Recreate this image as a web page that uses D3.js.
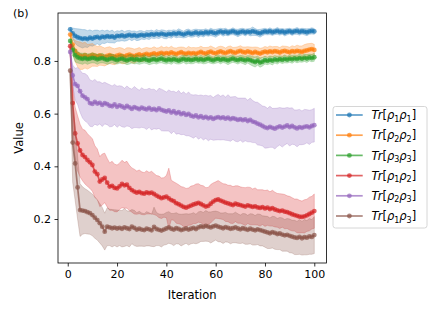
<!DOCTYPE html>
<html>
<head>
<meta charset="utf-8">
<script src="https://cdn.jsdelivr.net/npm/d3@7"></script>
<style>
  body { margin: 0; background: #fff; }
  svg { font-family: "DejaVu Sans", sans-serif; }
</style>
</head>
<body>
<svg width="440" height="315"></svg>
<script>
var width = 440;
var height = 315;

// iteration index
var iterations = d3.range(1, 101);

var seriesNames = ["p11", "p22", "p33", "p12", "p23", "p13"];
var subscripts = [["1","1"], ["2","2"], ["3","3"], ["1","2"], ["2","3"], ["1","3"]];
var colors = ["#1f77b4", "#ff7f0e", "#2ca02c", "#d62728", "#9467bd", "#8c564b"];

var meanP11 = [
  .920,.905,.895,.890,.887,.884,.886,.883,.888,.885,
  .889,.891,.887,.892,.890,.894,.891,.893,.889,.895,
  .894,.897,.893,.896,.899,.895,.898,.894,.897,.899,
  .896,.900,.898,.902,.899,.903,.900,.904,.901,.899,
  .903,.901,.905,.902,.906,.903,.900,.904,.907,.903,
  .905,.908,.904,.907,.905,.909,.906,.910,.907,.905,
  .909,.912,.908,.911,.907,.910,.913,.909,.906,.910,
  .912,.908,.911,.909,.913,.910,.907,.905,.909,.912,
  .910,.913,.909,.911,.914,.910,.912,.908,.911,.913,
  .909,.912,.914,.910,.913,.911,.909,.912,.914,.912];
var stdP11 = [
  .008,.02,.028,.032,.034,.035,.033,.032,.03,.029,
  .028,.026,.027,.025,.024,.023,.022,.024,.021,.02,
  .019,.02,.018,.019,.017,.018,.016,.017,.018,.016,
  .015,.016,.017,.015,.014,.016,.015,.014,.016,.015,
  .014,.015,.013,.014,.016,.014,.013,.015,.014,.013,
  .014,.013,.015,.012,.014,.013,.012,.014,.013,.015,
  .013,.012,.014,.013,.012,.011,.013,.012,.014,.013,
  .012,.013,.011,.014,.016,.013,.012,.015,.013,.012,
  .011,.013,.012,.011,.013,.012,.011,.013,.012,.011,
  .012,.011,.013,.012,.011,.012,.013,.011,.012,.011];

var meanP22 = [
  .900,.862,.838,.826,.820,.818,.822,.816,.819,.823,
  .820,.817,.821,.818,.815,.819,.822,.818,.816,.820,
  .823,.819,.817,.821,.824,.820,.818,.822,.825,.821,
  .824,.827,.823,.826,.829,.825,.828,.831,.827,.830,
  .828,.832,.829,.826,.830,.833,.829,.827,.831,.828,
  .830,.827,.831,.834,.830,.828,.832,.835,.831,.829,
  .833,.836,.832,.830,.834,.837,.833,.831,.835,.838,
  .834,.832,.836,.833,.830,.834,.831,.828,.832,.835,
  .833,.836,.834,.837,.835,.832,.836,.838,.835,.833,
  .837,.835,.838,.836,.834,.838,.840,.843,.845,.842];
var stdP22 = [
  .008,.025,.04,.048,.052,.05,.049,.047,.045,.043,
  .04,.038,.037,.035,.034,.033,.032,.031,.03,.029,
  .028,.03,.027,.029,.026,.028,.027,.025,.026,.024,
  .025,.024,.026,.023,.025,.024,.022,.025,.023,.024,
  .022,.024,.021,.023,.022,.02,.023,.021,.024,.022,
  .021,.023,.02,.022,.021,.023,.02,.022,.021,.019,
  .021,.02,.022,.019,.021,.02,.018,.021,.019,.02,
  .019,.021,.018,.02,.022,.019,.021,.02,.018,.02,
  .019,.021,.02,.018,.02,.019,.021,.018,.02,.019,
  .021,.02,.022,.021,.023,.024,.025,.023,.022,.021];

var meanP33 = [
  .876,.842,.822,.814,.810,.808,.811,.807,.809,.812,
  .810,.806,.809,.811,.807,.804,.808,.810,.806,.803,
  .807,.809,.805,.802,.806,.808,.804,.807,.803,.805,
  .808,.804,.801,.805,.807,.803,.806,.809,.805,.802,
  .806,.803,.807,.804,.801,.805,.808,.804,.806,.803,
  .805,.808,.804,.807,.803,.806,.809,.805,.802,.806,
  .808,.804,.807,.805,.802,.806,.809,.805,.803,.807,
  .805,.802,.806,.803,.799,.796,.801,.794,.797,.803,
  .800,.804,.801,.806,.803,.807,.804,.808,.805,.809,
  .806,.810,.807,.811,.808,.812,.809,.813,.811,.814];
var stdP33 = [
  .008,.02,.025,.022,.02,.021,.019,.02,.018,.019,
  .018,.019,.017,.018,.016,.017,.018,.016,.017,.015,
  .016,.017,.015,.016,.018,.016,.015,.017,.016,.015,
  .016,.014,.015,.017,.016,.015,.014,.016,.015,.014,
  .015,.016,.014,.015,.013,.015,.014,.016,.015,.014,
  .015,.014,.013,.015,.014,.016,.015,.014,.013,.015,
  .014,.015,.013,.014,.016,.015,.014,.013,.015,.014,
  .015,.016,.014,.017,.018,.019,.017,.018,.016,.015,
  .014,.015,.016,.014,.015,.013,.014,.015,.013,.014,
  .015,.013,.014,.015,.013,.014,.015,.013,.014,.015];

var meanP12 = [
  .856,.640,.525,.487,.460,.443,.435,.424,.415,.405,
  .380,.370,.342,.350,.356,.338,.323,.326,.318,.316,
  .324,.333,.328,.330,.318,.310,.304,.300,.303,.298,
  .296,.301,.298,.300,.295,.289,.284,.279,.282,.285,
  .278,.272,.268,.260,.256,.251,.246,.243,.247,.251,
  .255,.258,.261,.257,.252,.247,.250,.258,.266,.272,
  .274,.270,.266,.262,.259,.256,.253,.258,.255,.253,
  .250,.247,.252,.249,.246,.248,.244,.242,.245,.240,
  .243,.238,.241,.236,.233,.230,.232,.228,.226,.222,
  .218,.215,.212,.209,.208,.210,.214,.219,.224,.230];
var stdP12 = [
  .01,.08,.1,.105,.1,.098,.102,.1,.099,.1,
  .098,.096,.095,.097,.094,.092,.09,.093,.09,.089,
  .088,.09,.087,.089,.086,.084,.085,.082,.083,.081,
  .08,.082,.079,.081,.078,.076,.079,.077,.075,.08,
  .115,.075,.073,.076,.074,.072,.075,.073,.071,.074,
  .072,.075,.073,.071,.074,.072,.07,.073,.071,.069,
  .072,.07,.068,.071,.069,.072,.07,.068,.071,.069,
  .07,.072,.069,.071,.068,.07,.067,.069,.066,.068,
  .067,.065,.068,.066,.064,.066,.063,.065,.062,.064,
  .063,.061,.064,.062,.06,.063,.061,.064,.062,.065];

var meanP23 = [
  .834,.745,.712,.705,.685,.668,.662,.655,.640,.637,
  .645,.638,.641,.633,.640,.636,.630,.628,.635,.626,
  .631,.627,.622,.629,.624,.618,.625,.621,.617,.623,
  .619,.616,.622,.615,.618,.613,.620,.614,.611,.608,
  .612,.604,.609,.601,.606,.598,.602,.595,.599,.592,
  .589,.593,.586,.590,.584,.588,.582,.586,.580,.584,
  .587,.583,.586,.581,.585,.579,.583,.580,.576,.579,
  .575,.578,.572,.576,.570,.567,.562,.558,.553,.548,
  .545,.550,.546,.543,.548,.552,.547,.551,.555,.549,
  .553,.548,.544,.549,.546,.550,.552,.548,.553,.556];
var stdP23 = [
  .01,.04,.06,.07,.08,.085,.09,.09,.088,.087,
  .085,.083,.08,.082,.079,.078,.08,.077,.076,.078,
  .075,.077,.074,.076,.073,.075,.078,.074,.072,.075,
  .073,.076,.074,.077,.075,.072,.076,.079,.077,.074,
  .078,.08,.076,.079,.082,.078,.081,.079,.083,.08,
  .082,.079,.083,.081,.084,.082,.085,.083,.081,.084,
  .086,.083,.085,.082,.087,.084,.081,.085,.083,.08,
  .084,.081,.079,.083,.08,.077,.081,.078,.076,.079,
  .075,.078,.074,.077,.073,.071,.074,.07,.068,.072,
  .069,.066,.07,.067,.064,.066,.063,.065,.062,.064];

var meanP13 = [
  .763,.490,.411,.320,.234,.232,.230,.226,.222,.215,
  .205,.196,.184,.171,.152,.171,.168,.165,.167,.164,
  .166,.163,.168,.165,.162,.171,.166,.160,.163,.160,
  .158,.163,.161,.157,.170,.162,.159,.156,.160,.164,
  .168,.163,.160,.165,.162,.158,.161,.164,.160,.163,
  .166,.162,.168,.172,.170,.174,.171,.168,.172,.175,
  .171,.168,.165,.169,.166,.163,.165,.168,.164,.161,
  .165,.162,.159,.163,.160,.157,.161,.158,.155,.152,
  .149,.146,.150,.147,.143,.145,.141,.138,.140,.136,
  .133,.130,.128,.132,.127,.131,.129,.134,.132,.139];
var stdP13 = [
  .01,.15,.14,.12,.1,.09,.085,.083,.08,.079,
  .078,.076,.075,.073,.07,.072,.069,.071,.068,.07,
  .067,.069,.072,.066,.068,.065,.067,.064,.066,.063,
  .062,.065,.063,.061,.075,.063,.06,.062,.059,.061,
  .06,.058,.061,.059,.057,.06,.058,.056,.059,.057,
  .058,.056,.059,.057,.055,.058,.056,.059,.057,.055,
  .057,.055,.058,.056,.054,.057,.055,.058,.056,.054,
  .056,.058,.055,.057,.059,.056,.058,.06,.057,.059,
  .061,.058,.06,.062,.059,.061,.063,.06,.062,.064,
  .062,.065,.063,.066,.064,.067,.065,.068,.066,.07];

var means = [meanP11, meanP22, meanP33, meanP12, meanP23, meanP13];
var stds = [stdP11, stdP22, stdP33, stdP12, stdP23, stdP13];

var xTicks = [0, 20, 40, 60, 80, 100];
var yTicks = [0.2, 0.4, 0.6, 0.8];

var margin = {left: 58, right: 113.5, top: 13, bottom: 52};

var x = d3.scaleLinear()
    .domain([-3.95, 104.95])
    .range([margin.left, width - margin.right]);

var y = d3.scaleLinear()
    .domain([0.033, 0.982])
    .range([height - margin.bottom, margin.top]);

var svg = d3.select("svg");

var series = seriesNames.map((name, i) => ({
    name: name,
    color: colors[i],
    points: iterations.map((it, j) => ({it: it, m: means[i][j], s: stds[i][j]}))
}));

var area = d3.area()
    .x(d => x(d.it))
    .y0(d => y(d.m - d.s))
    .y1(d => y(d.m + d.s));

var line = d3.line()
    .x(d => x(d.it))
    .y(d => y(d.m));

var plot = svg.append("g").classed("plot", true);

series.forEach(s => {
    var g = plot.append("g");
    g.append("path")
        .attr("d", area(s.points))
        .attr("fill", s.color)
        .attr("fill-opacity", 0.28)
        .attr("stroke", s.color)
        .attr("stroke-opacity", 0.3)
        .attr("stroke-width", 0.8);
    g.append("path")
        .attr("d", line(s.points))
        .attr("fill", "none")
        .attr("stroke", s.color)
        .attr("stroke-opacity", 0.72)
        .attr("stroke-width", 1.7);
    g.selectAll("circle")
        .data(s.points)
        .enter()
        .append("circle")
            .attr("cx", d => x(d.it))
            .attr("cy", d => y(d.m))
            .attr("r", 2.4)
            .attr("fill", s.color)
            .attr("fill-opacity", 0.72);
});

// axes
var xAxis = svg.append("g")
    .attr("transform", `translate(0, ${height - margin.bottom})`)
    .call(d3.axisBottom(x).tickValues(xTicks).tickSize(3.5).tickPadding(3.5));

var yAxis = svg.append("g")
    .attr("transform", `translate(${margin.left}, 0)`)
    .call(d3.axisLeft(y).tickValues(yTicks).tickFormat(d3.format(".1f")).tickSize(3.5).tickPadding(3.5));

[xAxis, yAxis].forEach(a => {
    a.select(".domain").remove();
    a.selectAll("text")
        .style("font-family", "DejaVu Sans")
        .style("font-size", "11px")
        .attr("fill", "#000");
    a.selectAll("line").attr("stroke", "#000").attr("stroke-width", 0.8);
});

svg.append("rect")
    .attr("x", margin.left)
    .attr("y", margin.top)
    .attr("width", width - margin.right - margin.left)
    .attr("height", height - margin.bottom - margin.top)
    .attr("fill", "none")
    .attr("stroke", "#000")
    .attr("stroke-width", 0.8);

svg.append("text")
    .attr("x", (margin.left + width - margin.right) / 2)
    .attr("y", 299)
    .style("font-size", "11.5px")
    .style("text-anchor", "middle")
    .text("Iteration");

svg.append("text")
    .attr("transform", `translate(23, ${(margin.top + height - margin.bottom) / 2}) rotate(-90)`)
    .style("font-size", "11.5px")
    .style("text-anchor", "middle")
    .text("Value");

svg.append("text")
    .attr("x", 13)
    .attr("y", 16.5)
    .style("font-size", "11px")
    .text("(b)");

// legend
var legend = svg.append("g").attr("transform", "translate(333, 106.5)");

legend.append("rect")
    .attr("width", 94)
    .attr("height", 121.5)
    .attr("rx", 2.5)
    .attr("fill", "#fff")
    .attr("fill-opacity", 0.8)
    .attr("stroke", "#cccccc")
    .attr("stroke-width", 0.8);

var entries = legend.selectAll(".entry")
    .data(series)
    .enter()
    .append("g")
        .classed("entry", true)
        .attr("transform", (d, i) => `translate(0, ${8.5 + i * 20.2})`);

entries.append("line")
    .attr("x1", 3).attr("x2", 29.7)
    .attr("stroke", d => d.color)
    .attr("stroke-opacity", 0.72)
    .attr("stroke-width", 1.7);

entries.append("circle")
    .attr("cx", 16.4)
    .attr("r", 2.4)
    .attr("fill", d => d.color)
    .attr("fill-opacity", 0.72);

var labels = entries.append("text")
    .attr("x", 38.5)
    .attr("y", 4.2)
    .style("font-size", "11.5px");

labels.each(function(d, i) {
    var t = d3.select(this);
    var sub = subscripts[i];
    t.append("tspan").style("font-style", "italic").text("Tr");
    t.append("tspan").text("[");
    t.append("tspan").style("font-style", "italic").text("ρ");
    t.append("tspan").attr("dy", 2.3).style("font-size", "8px").text(sub[0]);
    t.append("tspan").attr("dy", -2.3).style("font-style", "italic").text("ρ");
    t.append("tspan").attr("dy", 2.3).style("font-size", "8px").text(sub[1]);
    t.append("tspan").attr("dy", -2.3).text("]");
});
</script>
</body>
</html>
